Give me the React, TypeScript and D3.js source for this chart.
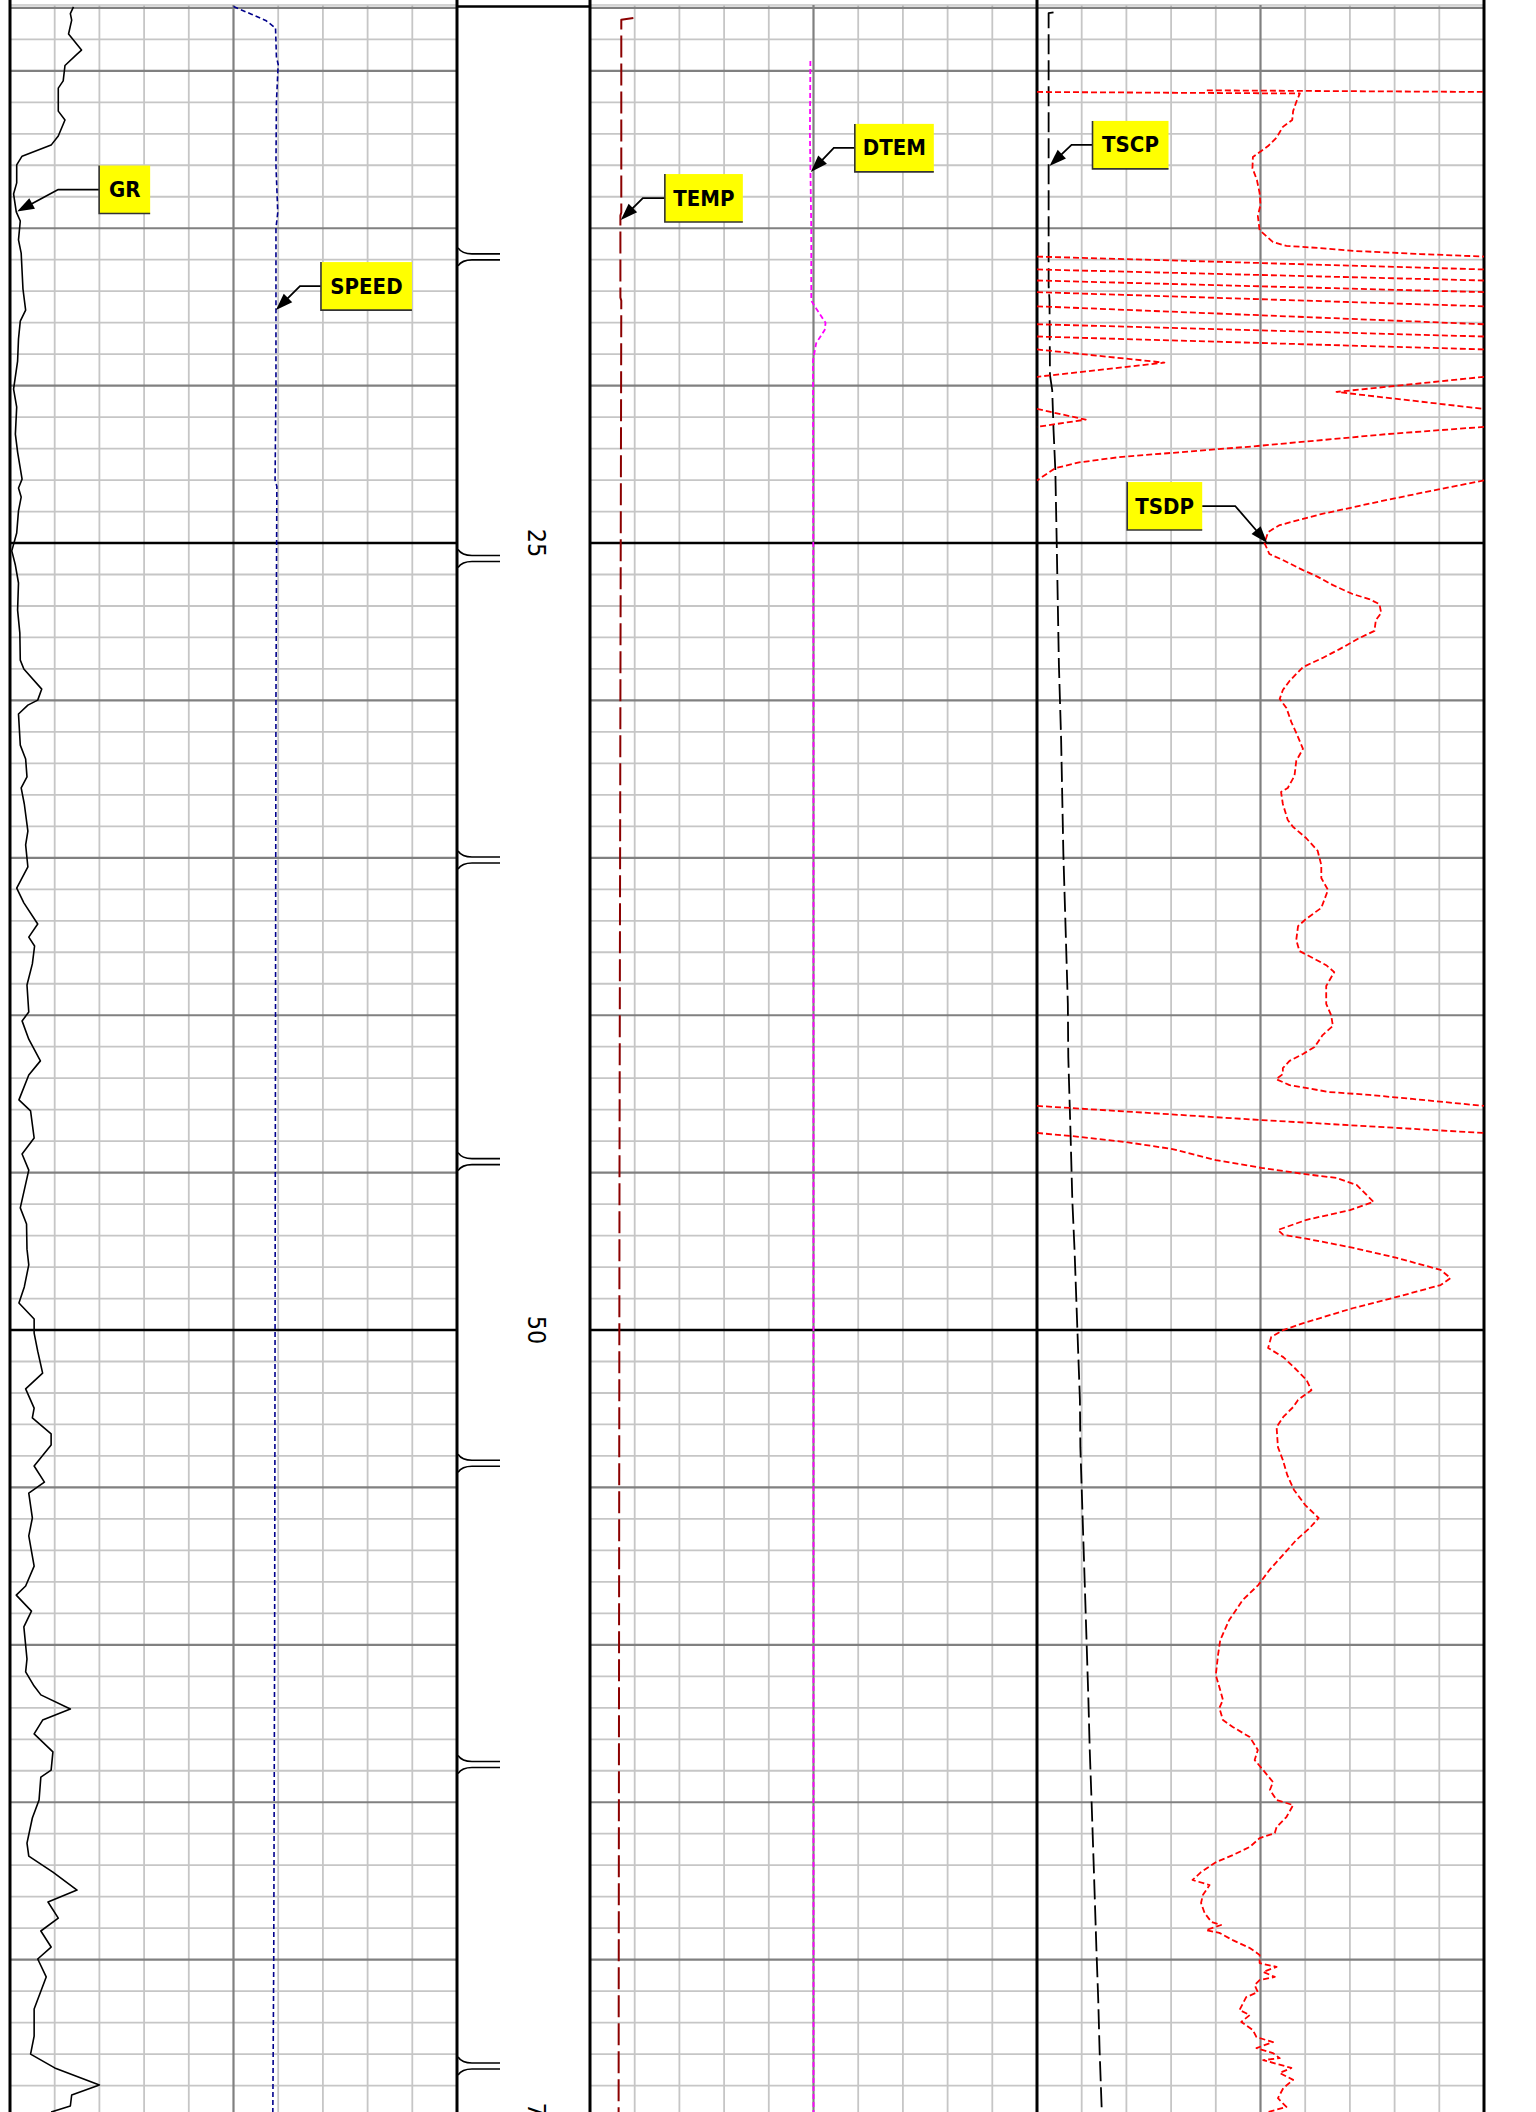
import * as d3 from "d3";
import React, { useEffect, useRef } from "react";

type Pt = [number, number]; // [depth, value in chart divisions 0-10]

const depthLabels = [25, 50, 75];
const tensionMarks = [15.91, 25.49, 35.07, 44.65, 54.23, 63.8, 73.38];

const grData: Pt[] = [
  [7.97, 1.42], [8.18, 1.35], [8.39, 1.38], [8.83, 1.31], [9.34, 1.6], [9.47, 1.5],
  [9.83, 1.23], [10.32, 1.19], [10.55, 1.08], [11.28, 1.08], [11.56, 1.23], [12.07, 1.08],
  [12.36, 0.92], [12.71, 0.27], [12.99, 0.15], [13.56, 0.15], [13.91, 0.08], [14.48, 0.14],
  [14.77, 0.23], [15.37, 0.19], [15.79, 0.25], [16.36, 0.27], [16.93, 0.29], [17.6, 0.35],
  [17.95, 0.23], [18.52, 0.19], [19.22, 0.17], [20.11, 0.08], [20.68, 0.15], [21.54, 0.12],
  [22.11, 0.17], [22.97, 0.27], [23.25, 0.19], [23.54, 0.25], [23.98, 0.19], [24.68, 0.15],
  [25.25, 0.04], [25.7, 0.12], [26.27, 0.19], [27.13, 0.17], [27.86, 0.22], [28.72, 0.23],
  [29.0, 0.31], [29.64, 0.71], [29.99, 0.62], [30.15, 0.4], [30.43, 0.19], [31.42, 0.23],
  [31.86, 0.35], [32.43, 0.38], [32.78, 0.25], [33.29, 0.32], [34.15, 0.4], [34.59, 0.35],
  [35.29, 0.4], [35.96, 0.15], [36.43, 0.31], [37.1, 0.62], [37.52, 0.42], [37.8, 0.55],
  [38.37, 0.5], [39.04, 0.38], [39.9, 0.42], [40.18, 0.27], [40.76, 0.42], [41.45, 0.68],
  [41.9, 0.42], [42.69, 0.2], [43.04, 0.46], [43.9, 0.54], [44.41, 0.27], [44.92, 0.42],
  [46.12, 0.23], [46.63, 0.37], [47.43, 0.38], [47.93, 0.42], [48.63, 0.32], [49.14, 0.2],
  [49.65, 0.54], [50.1, 0.54], [50.67, 0.62], [51.37, 0.73], [51.87, 0.35], [52.48, 0.54],
  [52.79, 0.5], [53.3, 0.92], [53.65, 0.92], [54.32, 0.54], [54.83, 0.77], [55.18, 0.42],
  [55.97, 0.5], [56.54, 0.42], [57.5, 0.54], [58.13, 0.35], [58.42, 0.14], [58.93, 0.48],
  [59.43, 0.31], [60.45, 0.38], [60.86, 0.35], [61.31, 0.54], [61.59, 0.69], [62.04, 1.35],
  [62.39, 0.73], [62.83, 0.54], [63.4, 0.96], [63.98, 0.92], [64.2, 0.69], [64.93, 0.65],
  [65.5, 0.5], [66.3, 0.38], [66.71, 0.42], [67.22, 0.96], [67.79, 1.5], [68.17, 0.85],
  [68.68, 1.08], [69.09, 0.69], [69.6, 0.92], [69.98, 0.62], [70.55, 0.81], [71.57, 0.54],
  [72.43, 0.54], [73.0, 0.46], [73.44, 1.0], [73.98, 2.0], [74.3, 1.38], [74.65, 1.35],
  [74.84, 0.92],
];

const speedData: Pt[] = [
  [7.96, 5.0], [8.2, 5.4], [8.4, 5.72], [8.64, 5.94], [9.55, 5.96], [9.8, 6.0], [11, 5.96],
  [13, 5.95], [14.5, 5.99], [15, 5.95], [20, 5.95], [23, 5.93], [23.2, 5.97], [30, 5.95],
  [40, 5.94], [50, 5.93], [60, 5.92], [70, 5.9], [74.84, 5.88],
];

const tempData: Pt[] = [
  [8.32, 0.97], [8.38, 0.7], [14.5, 0.7], [14.6, 0.68], [17.2, 0.68], [17.3, 0.7],
  [30, 0.68], [45, 0.66], [74.84, 0.64],
];

const dtemData: Pt[] = [
  [9.69, 4.93], [12, 4.92], [15, 4.95], [17.3, 4.95], [17.55, 5.06], [18.0, 5.27],
  [18.23, 5.25], [18.65, 5.06], [19.2, 4.99], [30, 5.0], [50, 5.0], [74.84, 5.0],
];

const tscpData: Pt[] = [
  [8.14, 0.37], [8.17, 0.26], [16.84, 0.26], [17.28, 0.28], [19.66, 0.29], [20.14, 0.34],
  [21.41, 0.37], [22.68, 0.41], [24.9, 0.44], [28.87, 0.49], [31.26, 0.54], [34.88, 0.59],
  [37.74, 0.65], [39.64, 0.69], [41.33, 0.7], [43.74, 0.75], [45.87, 0.79], [47.46, 0.84],
  [49.05, 0.88], [50.64, 0.92], [52.22, 0.96], [53.72, 0.97], [58.58, 1.08], [61.75, 1.15],
  [63.34, 1.18], [64.93, 1.22], [67.06, 1.27], [69.7, 1.33], [71.28, 1.37], [72.87, 1.4],
  [74.84, 1.45],
];

// TSDP is unwrapped: it wraps around the track every 10 divisions
const tsdpData: Pt[] = [
  [10.62, 3.8], [10.72, 15.88], [10.99, 15.8], [11.28, 15.73], [11.56, 15.71], [11.78, 15.5],
  [12.12, 15.36], [12.39, 15.17], [12.74, 14.83], [13.09, 14.82], [13.47, 14.92], [13.88, 14.98],
  [14.26, 15.0], [14.61, 14.94], [15.06, 14.98], [15.44, 15.28], [15.56, 15.58], [15.63, 16.33],
  [15.72, 17.08], [15.82, 18.58], [15.9, 20], [16.31, 30], [16.66, 40], [17.03, 50],
  [17.48, 60], [18.05, 70], [18.44, 80], [18.85, 90], [19.27, 92.85], [19.72, 90],
  [20.2, 86.7], [20.74, 90], [21.08, 91.09], [21.31, 90], [21.54, 87.83], [21.93, 84.83],
  [22.27, 81.84], [22.44, 80.94], [22.62, 80.41], [23.01, 80], [23.24, 79.18], [23.63, 77.83],
  [24.09, 76.33], [24.43, 75.43], [24.65, 75.17], [25.0, 75.09], [25.35, 75.2], [25.54, 75.5],
  [25.86, 75.95], [26.05, 76.25], [26.33, 76.61], [26.62, 77.06], [26.78, 77.43], [26.94, 77.66],
  [27.22, 77.7], [27.45, 77.58], [27.79, 77.55], [28.02, 77.21], [28.37, 76.77], [28.65, 76.39],
  [28.94, 75.95], [29.16, 75.8], [29.38, 75.65], [29.67, 75.5], [29.95, 75.43], [30.24, 75.58],
  [30.69, 75.69], [31.03, 75.8], [31.54, 75.95], [31.92, 75.8], [32.4, 75.76], [32.78, 75.61],
  [32.91, 75.46], [33.29, 75.5], [33.8, 75.61], [34.02, 75.73], [34.37, 76.02], [34.78, 76.28],
  [35.23, 76.36], [35.64, 76.36], [36.02, 76.51], [36.59, 76.36], [36.94, 76.02], [37.17, 75.84],
  [37.61, 75.8], [37.96, 75.87], [38.18, 76.17], [38.41, 76.47], [38.63, 76.65], [39.07, 76.47],
  [39.64, 76.47], [40.0, 76.58], [40.34, 76.62], [40.63, 76.39], [41.01, 76.21], [41.23, 75.95],
  [41.45, 75.65], [41.68, 75.5], [41.87, 75.5], [42.03, 75.35], [42.22, 75.65], [42.44, 76.54],
  [42.53, 77.43], [42.66, 78.4], [42.88, 80], [43.33, 85.02], [43.74, 90], [43.84, 90.79],
  [44.03, 91.99], [44.25, 93.03], [44.6, 94.0], [44.85, 95.02], [45.04, 95.96], [45.17, 96.7],
  [45.39, 97.15], [45.93, 97.53], [46.19, 97.0], [46.5, 96.03], [46.82, 95.39], [46.98, 95.51],
  [47.08, 95.96], [47.39, 97.08], [47.71, 98.05], [48.09, 99.03], [48.35, 99.25], [48.57, 99.03],
  [48.95, 98.05], [49.3, 97.08], [49.78, 95.96], [50.0, 95.51], [50.22, 95.24], [50.57, 95.17],
  [50.86, 95.51], [51.27, 95.81], [51.59, 96.03], [51.91, 96.14], [52.22, 95.84], [52.45, 95.73],
  [52.76, 95.51], [53.08, 95.36], [53.72, 95.39], [54.13, 95.5], [54.61, 95.6], [55.08, 95.75],
  [55.56, 96.0], [55.97, 96.3], [56.29, 96.1], [56.67, 95.8], [57.15, 95.5], [57.62, 95.2],
  [58.1, 94.95], [58.58, 94.6], [59.21, 94.3], [59.85, 94.1], [60.32, 94.05], [60.96, 94.0],
  [61.44, 94.1], [61.75, 94.16], [62.01, 94.08], [62.39, 94.16], [62.61, 94.38], [62.93, 94.76],
  [63.34, 94.94], [63.66, 94.87], [63.98, 95.06], [64.36, 95.28], [64.61, 95.21], [64.93, 95.36],
  [65.09, 95.73], [65.47, 95.58], [65.79, 95.36], [65.98, 95.32], [66.14, 94.98], [66.42, 94.76],
  [66.68, 94.38], [66.9, 94.01], [67.22, 93.67], [67.47, 93.48], [67.63, 93.86], [67.95, 93.71],
  [68.2, 93.67], [68.52, 93.75], [68.8, 93.9], [68.9, 94.12], [69.06, 93.78], [69.15, 94.08],
  [69.38, 94.38], [69.63, 94.76], [69.85, 94.98], [70.11, 94.98], [70.23, 95.36], [70.39, 95.06],
  [70.55, 95.32], [70.65, 94.98], [70.81, 94.87], [71.03, 94.94], [71.19, 94.68], [71.6, 94.53],
  [71.76, 94.76], [71.98, 94.57], [72.24, 94.83], [72.46, 94.91], [72.62, 95.28], [72.81, 94.91],
  [72.97, 95.28], [73.13, 95.43], [73.19, 95.06], [73.44, 95.69], [73.6, 95.43], [73.82, 95.73],
  [74.08, 95.51], [74.4, 95.39], [74.68, 95.58], [74.84, 95.17],
];

// label callouts: arrow tip sits on the curve, box placed relative to the tip
const callouts = [
  { label: "GR", track: 0, depth: 14.47, value: 0.16, elbow: [41, -22], gap: 41, w: 51 },
  { label: "SPEED", track: 0, depth: 17.6, value: 5.95, elbow: [24, -24], gap: 21, w: 91 },
  { label: "TEMP", track: 1, depth: 14.74, value: 0.69, elbow: [22, -22], gap: 22, w: 78 },
  { label: "DTEM", track: 1, depth: 13.21, value: 4.94, elbow: [23, -24], gap: 21, w: 79 },
  { label: "TSCP", track: 2, depth: 13.02, value: 0.28, elbow: [22, -21], gap: 21, w: 76 },
  { label: "TSDP", track: 2, depth: 25.0, value: 5.15, elbow: [-32, -37], gap: -33, w: 75 },
];

// split a wrapped curve into pieces that each stay inside one 0-10 band
function wrapPieces(data: Pt[]): Pt[][] {
  const out: Pt[][] = [];
  let cur: Pt[] | null = null;
  let band = NaN;
  for (let i = 0; i < data.length - 1; i++) {
    const [d0, v0] = data[i];
    const [d1, v1] = data[i + 1];
    const ts = [0, 1];
    if (v1 !== v0) {
      const lo = Math.min(v0, v1);
      const hi = Math.max(v0, v1);
      for (let b = Math.ceil(lo / 10) * 10; b <= hi; b += 10) {
        const t = (b - v0) / (v1 - v0);
        if (t > 1e-6 && t < 1 - 1e-6) ts.push(t);
      }
    }
    ts.sort((a, b) => a - b);
    for (let j = 0; j < ts.length - 1; j++) {
      const ta = ts[j];
      const tb = ts[j + 1];
      const vm = v0 + ((v1 - v0) * (ta + tb)) / 2;
      const bnd = Math.floor(vm / 10);
      const pa: Pt = [d0 + (d1 - d0) * ta, v0 + (v1 - v0) * ta - bnd * 10];
      const pb: Pt = [d0 + (d1 - d0) * tb, v0 + (v1 - v0) * tb - bnd * 10];
      if (cur && bnd === band) cur.push(pb);
      else {
        cur = [pa, pb];
        out.push(cur);
        band = bnd;
      }
    }
  }
  return out;
}

const App: React.FC = () => {
  const ref = useRef<SVGSVGElement>(null);

  useEffect(() => {
    const W = 1536;
    const H = 2112;
    const svg = d3.select(ref.current);
    svg.selectAll("*").remove();

    const y = d3.scaleLinear().domain([7.75, 74.84]).range([0, H]);
    const trackX = [
      [10, 457],
      [590, 1037],
      [1037, 1484],
    ];
    const x = trackX.map(([a, b]) => d3.scaleLinear().domain([0, 10]).range([a, b]));

    svg.append("rect").attr("width", W).attr("height", H).attr("fill", "#fff");

    const grid = svg.append("g");
    const hline = (x0: number, x1: number, yy: number, c: string, w: number) =>
      grid.append("line").attr("x1", x0).attr("x2", x1).attr("y1", yy).attr("y2", yy)
        .attr("stroke", c).attr("stroke-width", w);
    const vline = (xx: number, y0: number, y1: number, c: string, w: number) =>
      grid.append("line").attr("x1", xx).attr("x2", xx).attr("y1", y0).attr("y2", y1)
        .attr("stroke", c).attr("stroke-width", w);

    const depths = d3.range(8, 75);
    const light = "#c6c6c6";
    const mid = "#808080";

    // minor grid
    trackX.forEach(([x0, x1], i) => {
      hline(x0, x1, 5, light, 1.5);
      depths.filter((d) => d % 5 !== 0 && d !== 8).forEach((d) => hline(x0, x1, y(d), light, 1.8));
      d3.range(1, 10).filter((k) => k !== 5).forEach((k) => vline(x[i](k), 5, H, light, 1.8));
    });
    // major grid
    trackX.forEach(([x0, x1], i) => {
      hline(x0, x1, y(8), mid, 2.2);
      depths.filter((d) => d % 5 === 0 && d % 25 !== 0).forEach((d) => hline(x0, x1, y(d), mid, 2.2));
      vline(x[i](5), 5, H, mid, 2.2);
    });
    // 25 unit lines and borders
    trackX.forEach(([x0, x1]) => {
      depths.filter((d) => d % 25 === 0).forEach((d) => hline(x0, x1, y(d), "#000", 2.6));
    });
    [10, 457, 590, 1037, 1484].forEach((xx) => vline(xx, 0, H, "#000", 3));
    hline(457, 590, 6.5, "#000", 2.5);

    // depth labels
    depthLabels.forEach((d) => {
      svg.append("text")
        .text(String(d))
        .attr("x", 536)
        .attr("y", y(d))
        .attr("transform", `rotate(90, 536, ${y(d)})`)
        .attr("text-anchor", "middle")
        .attr("dominant-baseline", "central")
        .attr("font-family", "'DejaVu Sans Condensed', 'DejaVu Sans', sans-serif")
        .attr("font-stretch", "condensed")
        .attr("font-size", "25px")
        .attr("fill", "#000");
    });

    // tension marks in the depth track
    tensionMarks.forEach((d) => {
      const c = y(d);
      svg.append("path")
        .attr("d",
          `M458,${c - 9} Q462,${c - 3} 472,${c - 3} L500,${c - 3}` +
          ` M458,${c + 9} Q462,${c + 3} 472,${c + 3} L500,${c + 3}`)
        .attr("fill", "none")
        .attr("stroke", "#000")
        .attr("stroke-width", 1.6);
    });

    // curves
    const curves = svg.append("g");
    const drawCurve = (data: Pt[], ti: number, color: string, w: number, dash: string | null) => {
      const line = d3.line<Pt>().x((p) => x[ti](p[1])).y((p) => y(p[0]));
      const p = curves.append("path")
        .attr("d", line(data) as string)
        .attr("fill", "none")
        .attr("stroke", color)
        .attr("stroke-width", w)
        .attr("stroke-linejoin", "round");
      if (dash) p.attr("stroke-dasharray", dash);
    };

    drawCurve(grData, 0, "#000", 1.6, null);
    drawCurve(speedData, 0, "#00008b", 1.6, "5,3");
    drawCurve(tempData, 1, "#8b0000", 2, "22,6");
    drawCurve(dtemData, 1, "#ff00ff", 1.8, "5,3");
    drawCurve(tscpData, 2, "#000", 1.8, "20,6");
    wrapPieces(tsdpData).forEach((piece) => drawCurve(piece, 2, "#ff0000", 1.8, "6,3"));

    // callouts
    const cg = svg.append("g");
    callouts.forEach((c) => {
      const tx = x[c.track](c.value);
      const ty = y(c.depth);
      const ex = tx + c.elbow[0];
      const ey = ty + c.elbow[1];
      const h = 48;
      const bx = c.gap > 0 ? ex + c.gap : ex + c.gap - c.w;
      const edge = c.gap > 0 ? bx : bx + c.w;
      const by = ey - h / 2;

      // leader + arrow head
      const dx = tx - ex;
      const dy = ty - ey;
      const len = Math.sqrt(dx * dx + dy * dy);
      const ux = dx / len;
      const uy = dy / len;
      const L = 17;
      const hw = 6;
      cg.append("path")
        .attr("d", `M${edge},${ey} L${ex},${ey} L${tx - ux * L * 0.7},${ty - uy * L * 0.7}`)
        .attr("fill", "none")
        .attr("stroke", "#000")
        .attr("stroke-width", 1.8);
      cg.append("path")
        .attr("d",
          `M${tx},${ty} L${tx - ux * L - uy * hw},${ty - uy * L + ux * hw}` +
          ` L${tx - ux * L + uy * hw},${ty - uy * L - ux * hw} Z`)
        .attr("fill", "#000");

      cg.append("rect")
        .attr("x", bx)
        .attr("y", by)
        .attr("width", c.w)
        .attr("height", h)
        .attr("fill", "#ffff00");
      cg.append("path")
        .attr("d", `M${bx},${by} L${bx},${by + h} L${bx + c.w},${by + h}`)
        .attr("fill", "none")
        .attr("stroke", "#333")
        .attr("stroke-width", 1.6);
      cg.append("text")
        .text(c.label)
        .attr("x", bx + c.w / 2)
        .attr("y", ey)
        .attr("text-anchor", "middle")
        .attr("dominant-baseline", "central")
        .attr("font-family", "'DejaVu Sans Condensed', 'DejaVu Sans', sans-serif")
        .attr("font-stretch", "condensed")
        .attr("font-weight", "bold")
        .attr("font-size", "22px")
        .attr("fill", "#000");
    });
  }, []);

  return (
    <div style={{ position: "absolute", left: 0, top: 0 }}>
      <svg ref={ref} width={1536} height={2112} style={{ display: "block" }} />
    </div>
  );
};

export default App;
